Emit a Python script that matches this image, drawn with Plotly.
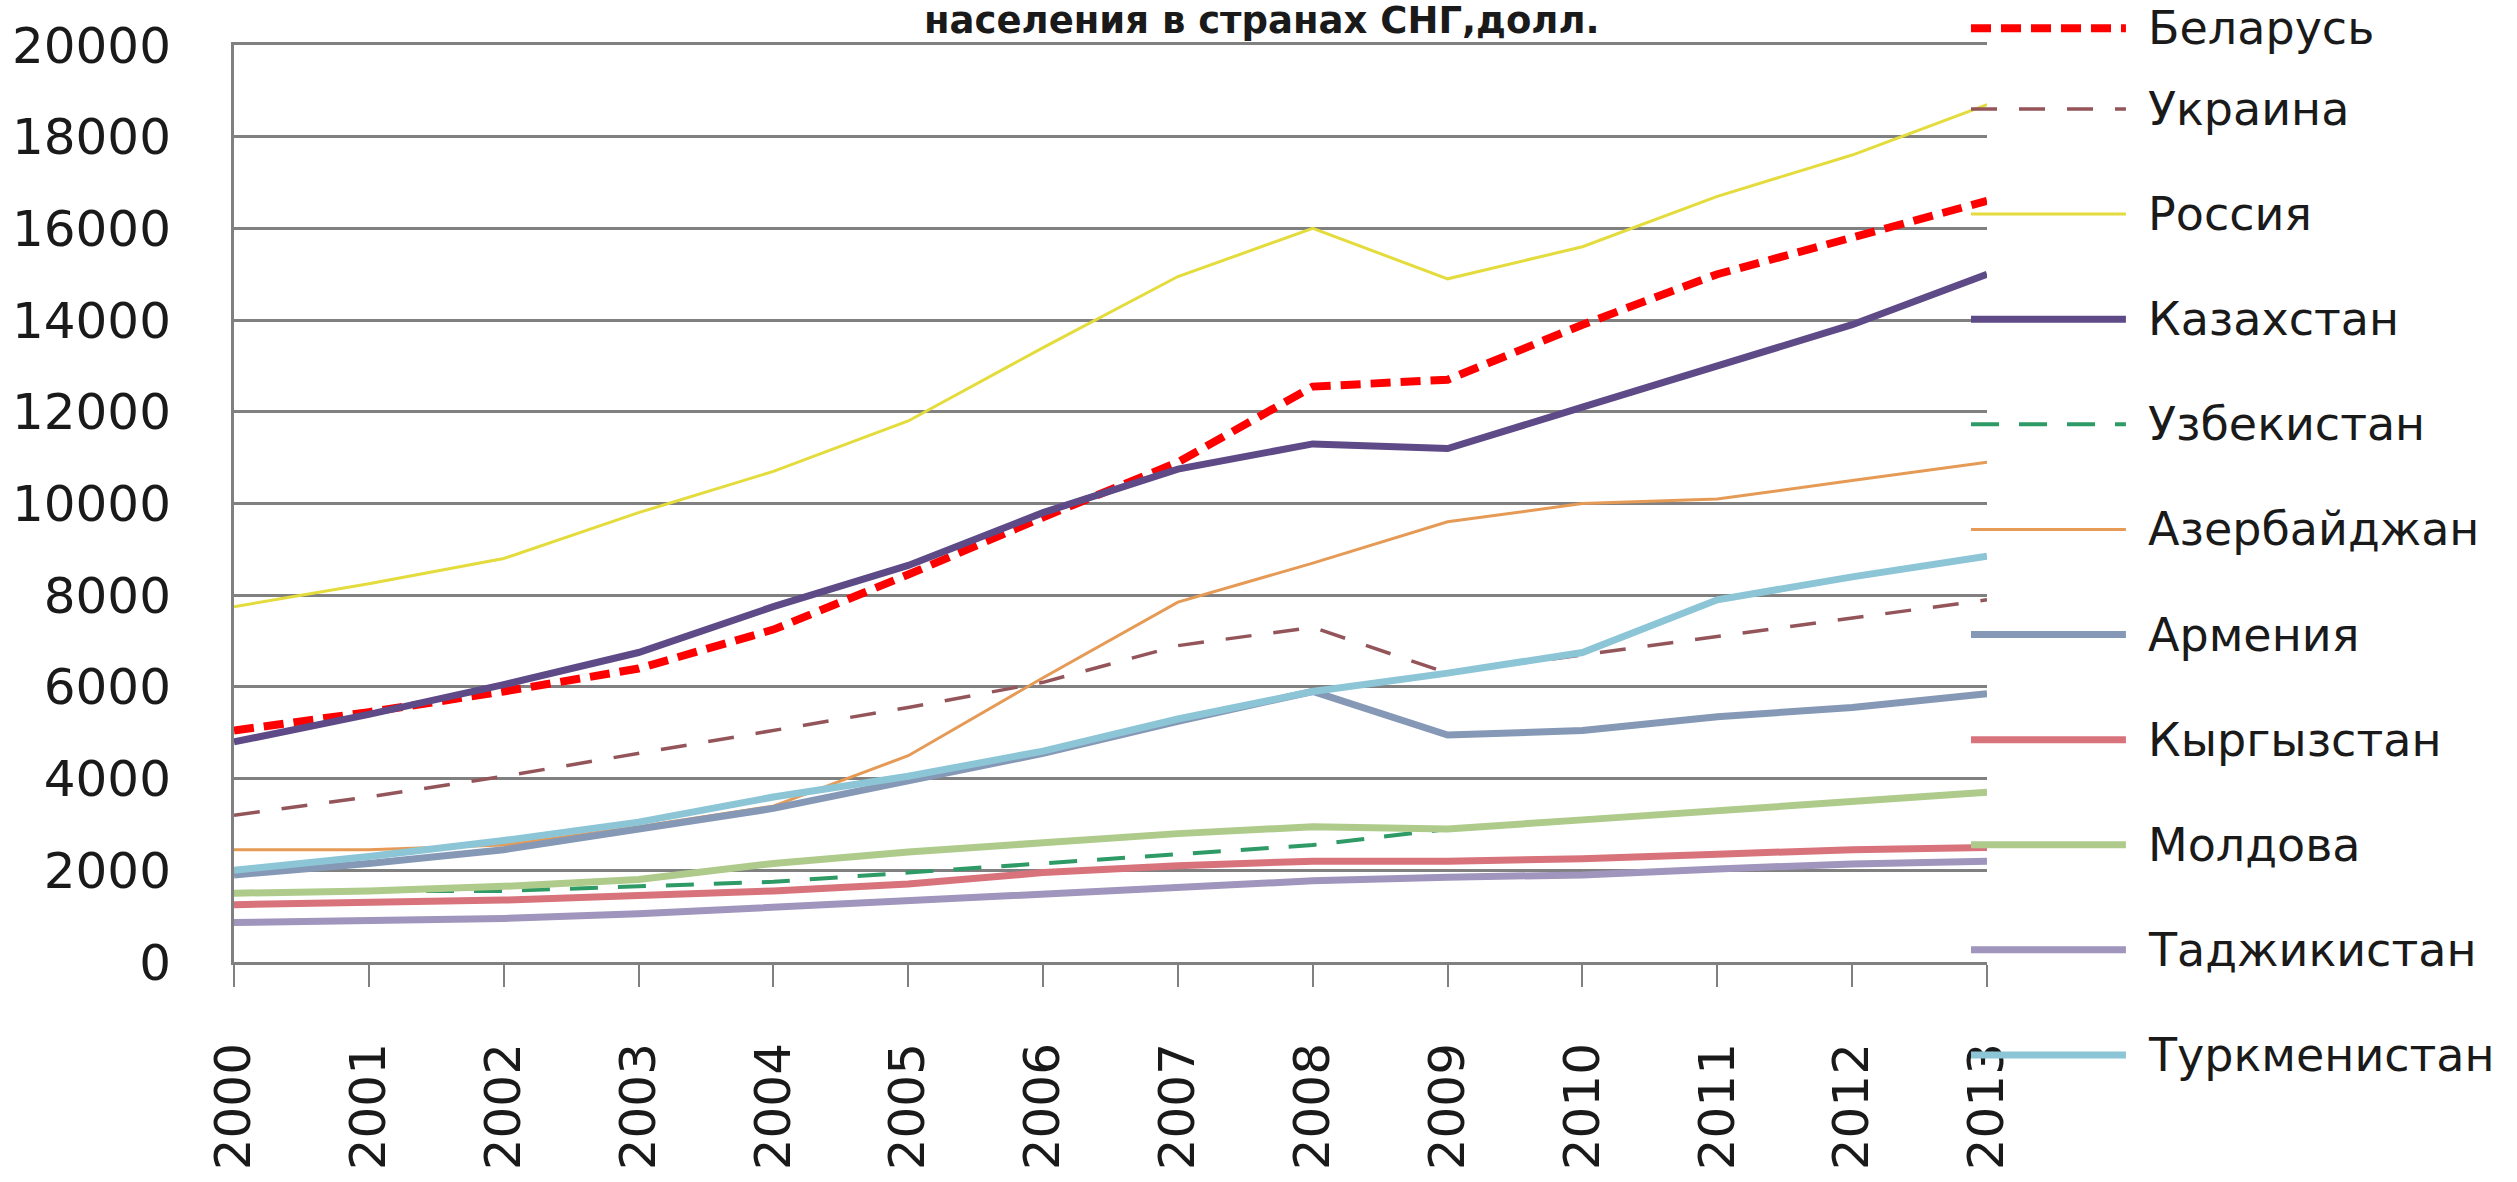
import plotly.graph_objects as go

# ---------------- data ----------------
years = list(range(2000, 2014))
year_labels = [str(y) for y in years]

belarus = [5050, 5450, 5900, 6400, 7250, 8450, 9700, 10900, 12550, 12700, 13900, 15000, 15800, 16600]
ukraine = [3200, 3600, 4050, 4550, 5050, 5550, 6100, 6900, 7300, 6300, 6700, 7100, 7500, 7900]
russia = [7750, 8250, 8800, 9800, 10700, 11800, 13400, 14950, 16000, 14900, 15600, 16700, 17600, 18700]
kazakhstan = [4800, 5400, 6050, 6750, 7750, 8650, 9800, 10750, 11300, 11200, 12100, 13000, 13900, 15000]
uzbekistan = [1500, 1550, 1550, 1650, 1750, 1950, 2150, 2350, 2550, 2900, 3100, 3300, 3500, 3700]
azerbaijan = [2450, 2450, 2550, 2950, 3400, 4500, 6200, 7850, 8700, 9600, 10000, 10100, 10500, 10900]
armenia = [1900, 2150, 2450, 2900, 3350, 3950, 4550, 5250, 5900, 4950, 5050, 5350, 5550, 5850]
kyrgyzstan = [1250, 1300, 1350, 1450, 1550, 1700, 1950, 2100, 2200, 2200, 2250, 2350, 2450, 2500]
moldova = [1500, 1550, 1650, 1800, 2150, 2400, 2600, 2800, 2950, 2900, 3100, 3300, 3500, 3700]
tajikistan = [860, 900, 950, 1050, 1200, 1350, 1500, 1650, 1770, 1850, 1900, 2030, 2140, 2200]
turkmenistan = [2000, 2300, 2650, 3050, 3600, 4050, 4600, 5300, 5900, 6300, 6750, 7900, 8400, 8850]

names = ["Беларусь", "Украина", "Россия", "Казахстан", "Узбекистан", "Азербайджан",
         "Армения", "Кыргызстан", "Молдова", "Таджикистан", "Туркменистан"]
series = [belarus, ukraine, russia, kazakhstan, uzbekistan, azerbaijan,
          armenia, kyrgyzstan, moldova, tajikistan, turkmenistan]

y_ticks = list(range(0, 20001, 2000))
title_text = "населения в странах СНГ,долл."

# ---------------- styles ----------------
styles = [
    dict(color="#FF0000", width=8, dash="20px,10px"),
    dict(color="#94555A", width=3.5, dash="26px,22px"),
    dict(color="#E3DC3C", width=3, dash="solid"),
    dict(color="#5E4A86", width=7, dash="solid"),
    dict(color="#2E9A66", width=4, dash="28px,20px"),
    dict(color="#E59A55", width=3, dash="solid"),
    dict(color="#8598B5", width=7, dash="solid"),
    dict(color="#D8737C", width=7, dash="solid"),
    dict(color="#AECB8B", width=7, dash="solid"),
    dict(color="#A095BC", width=7, dash="solid"),
    dict(color="#8CC5D6", width=7, dash="solid"),
]

W, H = 2517, 1182
L, R, T, B = 233, 530, 45, 200
PW, PH = W - L - R, H - T - B
FONT = "DejaVu Sans"


def px_x(x):
    return (x - L) / PW


def px_y(y):
    return (H - B - y) / PH


fig = go.Figure()
for name, vals, st in zip(names, series, styles):
    fig.add_trace(go.Scatter(
        x=years, y=vals, name=name, mode="lines",
        line=dict(color=st["color"], width=st["width"], dash=st["dash"]),
        showlegend=False,
    ))

# legend at the right with long Excel-like samples
shapes = []
annotations = []
for i, (name, st) in enumerate(zip(names, styles)):
    yp = max(3 + 107.4 * i, 28)
    shapes.append(dict(
        type="line", xref="paper", yref="paper",
        x0=px_x(1971), x1=px_x(2126), y0=px_y(yp), y1=px_y(yp),
        line=dict(color=st["color"], width=st["width"], dash=st["dash"]),
    ))
    annotations.append(dict(
        text=name, xref="paper", yref="paper", x=px_x(2146), y=px_y(yp),
        xanchor="left", yanchor="middle", showarrow=False,
        font=dict(family=FONT, size=46, color="#1a1a1a"),
    ))

annotations.append(dict(
    text="<b>" + title_text + "</b>", xref="paper", yref="paper",
    x=px_x(1262), y=px_y(44), xanchor="center", yanchor="bottom", showarrow=False,
    font=dict(family=FONT, size=37, color="#1a1a1a"),
))

fig.update_layout(
    width=W, height=H,
    margin=dict(l=L, r=R, t=T, b=B, pad=0),
    paper_bgcolor="white", plot_bgcolor="white",
    font=dict(family=FONT, size=50, color="#1a1a1a"),
    shapes=shapes, annotations=annotations,
    showlegend=False,
)
fig.update_xaxes(
    range=[2000, 2013], tickmode="array", tickvals=years, ticktext=year_labels,
    tickangle=-90, ticks="outside", ticklen=22, tickwidth=2, tickcolor="#808080",
    showline=True, mirror=True, linecolor="#808080", linewidth=3, showgrid=False, zeroline=False,
    ticklabelstandoff=36, tickfont=dict(family=FONT, size=50, color="#1a1a1a"),
)
fig.update_yaxes(
    range=[0, 20000], tickmode="array", tickvals=y_ticks, ticktext=[str(v) for v in y_ticks],
    showgrid=True, gridcolor="#808080", gridwidth=3, zeroline=False,
    showline=True, linecolor="#808080", linewidth=3, ticks="",
    ticklabelstandoff=50, tickfont=dict(family=FONT, size=50, color="#1a1a1a"),
)

fig.write_html("out.html", config={"displayModeBar": False},
               post_script="document.body.style.margin='0px';")
